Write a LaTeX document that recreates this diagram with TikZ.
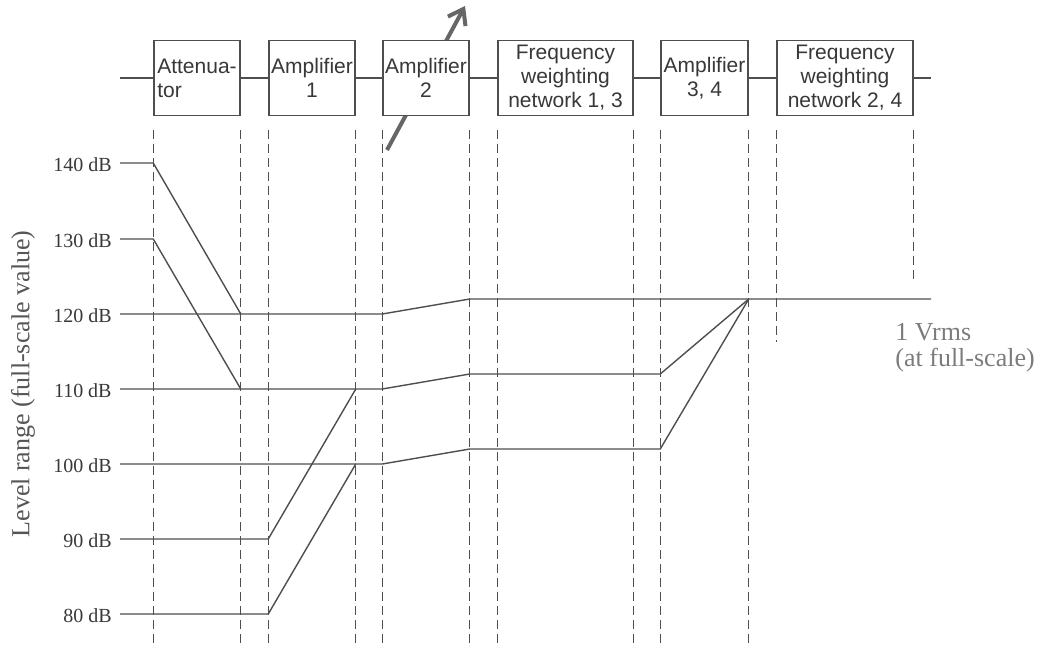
\documentclass[tikz,border=0pt]{standalone}
\usepackage{fontspec}
\setmainfont{Liberation Serif}
\newfontfamily\boxfont{Liberation Sans}
\usetikzlibrary{arrows.meta,backgrounds}
\definecolor{inkgray}{HTML}{4E4E4E}
\definecolor{textgray}{HTML}{383838}
\definecolor{arrowgray}{HTML}{666666}
\definecolor{notegray}{HTML}{7C7C7C}
\tikzset{
  stage/.style={draw=inkgray, line width=0.75pt, fill=white, minimum height=37.5pt,
    inner sep=0pt, text=textgray, font=\boxfont\fontsize{10.5}{12}\selectfont, align=center},
  guide/.style={draw=inkgray, line width=0.7pt, dash pattern=on 4.5pt off 2.5pt},
  level/.style={draw=inkgray, line width=0.7pt},
  dblabel/.style={anchor=east, inner sep=0pt, text=textgray, font=\fontsize{10}{12}\selectfont},
  gain/.style={draw=arrowgray, line width=2pt, -{Straight Barb[length=7pt,width=10pt]}}
}

\begin{document}
\begin{tikzpicture}[x=0.5pt, y=-0.5pt]
  \useasboundingbox (0,0) rectangle (1052,648);

  % signal chain
  \node[stage, minimum width=43pt, align=left] (att) at (197,78) {Attenua-\\tor};
  \node[stage, minimum width=43pt] (amp1) at (312,78) {Amplifier\\1};
  \node[stage, minimum width=43pt] (amp2) at (426,78) {Amplifier\\2};
  \node[stage, minimum width=67.5pt] (fw13) at (565.5,78) {Frequency\\weighting\\network 1, 3};
  \node[stage, minimum width=43.5pt] (amp34) at (704.5,78) {Amplifier\\3, 4};
  \node[stage, minimum width=68pt] (fw24) at (845,78) {Frequency\\weighting\\network 2, 4};
  \coordinate (sigin) at (120,78);
  \coordinate (sigout) at (931,78);
  \draw[level, line width=0.85pt] (sigin) -- (att) -- (amp1) -- (amp2) -- (fw13) -- (amp34) -- (fw24) -- (sigout);

  % variable gain
  \begin{scope}[on background layer]
    \draw[gain] ([shift={(-39,72)}]amp2.center) -- ([shift={(39,-72)}]amp2.center);
  \end{scope}

  % guide lines
  \coordinate (bot) at (0,648);
  \foreach \s in {att,amp1,amp2,fw13,amp34}
    \draw[guide] ([yshift=-7pt]\s.south west) -- (\s.south west |- bot)
                 ([yshift=-7pt]\s.south east) -- (\s.south east |- bot);
  \draw[guide] ([yshift=-7pt]fw24.south west) -- ++(0,212);
  \draw[guide] ([yshift=-7pt]fw24.south east) -- ++(0,150);

  % levels
  \foreach \v/\y in {140/163,130/239,120/314,110/389,100/464,90/539,80/614} {
    \coordinate (l\v) at (120,\y);
    \node[dblabel] (t\v) at (112,\y+2) {\v~dB};
  }
  \coordinate (o122) at (931,299);
  \coordinate (o112) at (931,374);
  \coordinate (o102) at (931,449);

  \draw[level] (l120) -- (amp2.south west |- l120) -- (amp2.south east |- o122) -- (o122);
  \draw[level] (l140) -- (att.south west |- l140) -- (att.south east |- l120);
  \draw[level] (l130) -- (att.south west |- l130) -- (att.south east |- l110);
  \draw[level] (l110) -- (amp2.south west |- l110) -- (amp2.south east |- o112)
    -- (amp34.south west |- o112) -- (amp34.south east |- o122);
  \draw[level] (l100) -- (amp2.south west |- l100) -- (amp2.south east |- o102)
    -- (amp34.south west |- o102) -- (amp34.south east |- o122);
  \draw[level] (l90) -- (amp1.south west |- l90) -- (amp1.south east |- l110);
  \draw[level] (l80) -- (amp1.south west |- l80) -- (amp1.south east |- l100);

  % texts
  \node[rotate=90, inner sep=0pt, text=textgray!85, font=\fontsize{13}{15}\selectfont] (axis) at (23,384)
    {Level range (full-scale value)};
  \node[anchor=west, align=left, inner sep=0pt, text=notegray, font=\fontsize{13}{13}\selectfont] (vrms) at (895,348)
    {1 Vrms\\(at full-scale)};
\end{tikzpicture}
\end{document}
